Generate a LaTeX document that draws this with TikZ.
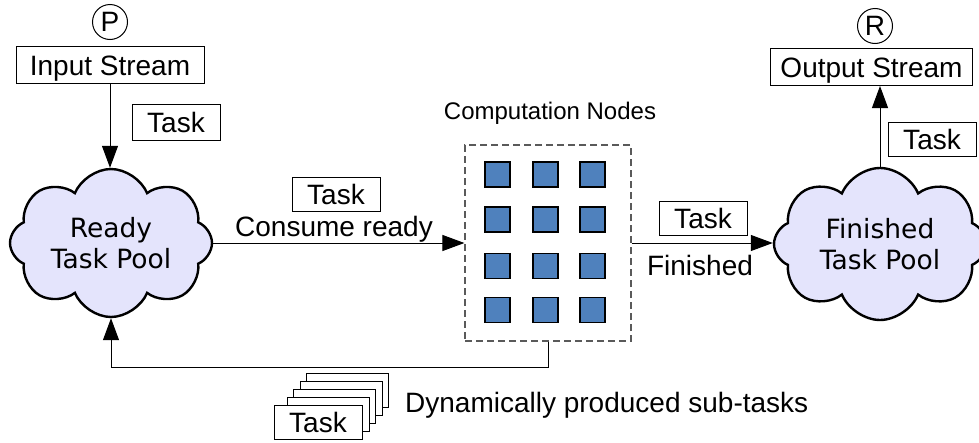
\documentclass[tikz,border=0pt]{standalone}
\usepackage{fontspec}
\setmainfont{Liberation Sans}
\newfontfamily\cloudfont{DejaVu Sans}
\usetikzlibrary{shapes.symbols,arrows.meta}
\definecolor{poolfill}{RGB}{228,228,252}
\definecolor{cnodefill}{RGB}{79,129,189}
\definecolor{dashgray}{RGB}{90,90,90}
\begin{document}
\begin{tikzpicture}[x=1pt,y=-1pt,
  lbl/.style={font=\fontsize{28}{32}\selectfont, inner sep=0},
  taskbox/.style={draw, line width=1pt, fill=white, minimum width=88pt, minimum height=34pt, inner sep=0, font=\fontsize{28}{32}\selectfont},
  streambox/.style={draw, line width=1pt, inner sep=0, minimum height=37pt, text height=20pt, text depth=0pt, font=\fontsize{28}{32}\selectfont},
  pool/.style={cloud, cloud puffs=8, cloud puff arc=135, cloud ignores aspect, draw, line width=2.4pt, fill=poolfill, inner sep=0, align=center, font=\cloudfont\fontsize{26.5}{31}\selectfont},
  conn/.style={line width=1pt, -{Triangle[length=22pt,width=16pt]}},
  cnode/.style={draw, line width=1.4pt, fill=cnodefill, minimum size=25pt, inner sep=0},
  letter/.style={circle, draw, line width=1pt, minimum size=35pt, inner sep=0, font=\fontsize{28}{32}\selectfont},
  compbox/.style={draw=dashgray, line width=1.2pt, dash pattern=on 7pt off 4pt, minimum width=166pt, minimum height=196pt, inner sep=0}
]
\useasboundingbox (0,0) rectangle (979,442);

% left side
\node[letter] (P) at (110,22) {P};
\node[streambox, minimum width=188pt] (in) at (110,65) {Input Stream};
\node[taskbox, minimum height=36pt] (t1) at (176,122.5) {Task};
\node[pool, minimum width=202pt, minimum height=148pt] (ready) at (111,243) {Ready\\Task Pool};

% computation nodes
\node[compbox] (comp) at (548,243) {};
\node[font=\fontsize{24}{28}\selectfont, inner sep=0] (ctitle) at (550,113) {Computation Nodes};
\foreach \r/\y in {1/174.5,2/219.5,3/266,4/310}{
  \foreach \c/\x in {1/497.5,2/545.5,3/592.5}{
    \node[cnode] (n\r\c) at (\x,\y) {};
  }
}

% middle labels
\node[taskbox] (t2) at (336,194.5) {Task};
\node[lbl, anchor=base] (consume) at (334,236) {Consume ready};
\node[taskbox] (t3) at (703,218) {Task};
\node[lbl, anchor=base] (finished) at (700,275) {Finished};

% right side
\node[pool, minimum width=212pt, minimum height=152pt] (fin) at (880,244) {Finished\\Task Pool};
\node[letter] (R) at (875,26) {R};
\node[streambox, minimum width=202pt] (out) at (871.5,67) {Output Stream};
\node[taskbox] (t4) at (932,139) {Task};

% stacked sub-tasks
\foreach \k in {4,3,2,1}{
  \node[taskbox, minimum width=82pt] (s\k) at ({321.5+6.5*\k},{422-8*\k}) {};
}
\node[taskbox] (stack) at (318,422) {Task};
\node[lbl, anchor=west] (dyn) at (405,405) {Dynamically produced sub-tasks};

% connectors
\draw[conn] (in.south) -- (in.south |- ready.north);
\draw[conn] (ready.east) -- (ready.east -| comp.west);
\draw[conn] (comp.east) -- (comp.east -| fin.west);
\draw[conn] (fin.north) -- (fin.north |- out.south);
\draw[conn] (comp.south) -- ++(0,26) -| (ready.south);
\end{tikzpicture}
\end{document}
